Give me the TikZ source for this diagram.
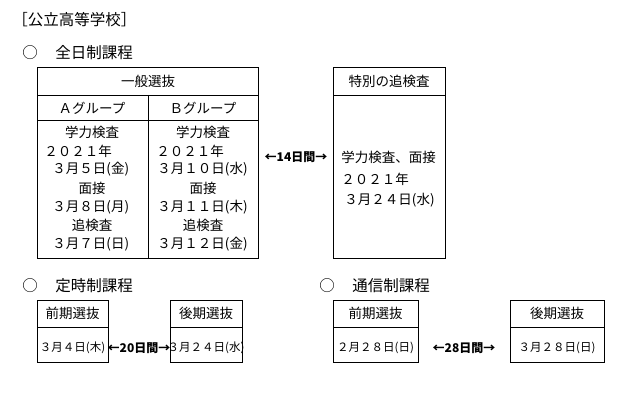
\documentclass[tikz,border=0pt]{standalone}
\usepackage{fontspec}
\setmainfont{Noto Sans CJK JP}
\newfontfamily\jp{Noto Sans CJK JP}
\begin{document}
\begin{tikzpicture}[x=1pt,y=-1pt,line width=0.9pt,
  t/.style={font=\fontsize{13.5}{15}\selectfont\jp,inner sep=0pt},
  tl/.style={t,anchor=west},
  hd/.style={font=\fontsize{15.5}{17}\selectfont\jp,inner sep=0pt,anchor=west},
  dt/.style={font=\fontsize{11.5}{13}\selectfont\jp,inner sep=0pt},
  lab/.style={font=\fontsize{12}{13}\selectfont\jp\bfseries,inner sep=0pt},
  box/.style={draw,line width=0.9pt}]
\useasboundingbox (0,0) rectangle (640,401);
% titles
\node[hd] (title) at (12,20) {［公立高等学校］};
\node[hd] (c1) at (22,53) {○};
\node[hd] (h1) at (55,53) {全日制課程};
% main box
\draw[box] (37,67) rectangle (258,258);
\draw (37,95) -- (258,95);
\draw (37,120) -- (258,120);
\draw (148,95) -- (148,258);
\node[t] (ip) at (148,81) {一般選抜};
\node[t] (ga) at (92,108) {Ａグループ};
\node[t] (gb) at (203,108) {Ｂグループ};
\node[t] (a1) at (92,132) {学力検査};
\node[tl] (a2) at (44,151) {２０２１年};
\node[tl] (a3) at (52,169) {３月５日(金)};
\node[t] (a4) at (92,188) {面接};
\node[tl] (a5) at (52,207) {３月８日(月)};
\node[t] (a6) at (92,225) {追検査};
\node[tl] (a7) at (52,244) {３月７日(日)};
\node[t] (b1) at (203,132) {学力検査};
\node[tl] (b2) at (156,151) {２０２１年};
\node[tl] (b3) at (157,169) {３月１０日(水)};
\node[t] (b4) at (203,188) {面接};
\node[tl] (b5) at (157,207) {３月１１日(木)};
\node[t] (b6) at (203,225) {追検査};
\node[tl] (b7) at (157,244) {３月１２日(金)};
\node[lab] (d14) at (296,157) {←14日間→};
% special box
\draw[box] (333,67) rectangle (445,258);
\draw (333,95) -- (445,95);
\node[t] (sp) at (389,81) {特別の追検査};
\node[tl] (s1) at (341,157) {学力検査、面接};
\node[tl] (s2) at (341,179) {２０２１年};
\node[tl] (s3) at (344,200) {３月２４日(水)};
% teiji
\node[hd] (c2) at (22,286) {○};
\node[hd] (h2) at (55,286) {定時制課程};
\draw[box] (37,300) rectangle (108,362);
\draw (37,327) -- (108,327);
\node[t] (tz) at (72.5,313) {前期選抜};
\node[dt] (tzd) at (72.5,348) {３月４日(木)};
\draw[box] (170,300) rectangle (242,362);
\draw (170,327) -- (242,327);
\node[t] (tk) at (206,313) {後期選抜};
\node[dt] (tkd) at (206,348) {３月２４日(水)};
\node[lab] (d20) at (139,348) {←20日間→};
% tsushin
\node[hd] (c3) at (319,286) {○};
\node[hd] (h3) at (352,286) {通信制課程};
\draw[box] (333,300) rectangle (418,362);
\draw (333,327) -- (418,327);
\node[t] (uz) at (375.5,313) {前期選抜};
\node[dt] (uzd) at (375.5,348) {２月２８日(日)};
\draw[box] (510,300) rectangle (604,362);
\draw (510,327) -- (604,327);
\node[t] (uk) at (557,313) {後期選抜};
\node[dt] (ukd) at (557,348) {３月２８日(日)};
\node[lab] (d28) at (464,348) {←28日間→};
\end{tikzpicture}
\end{document}
